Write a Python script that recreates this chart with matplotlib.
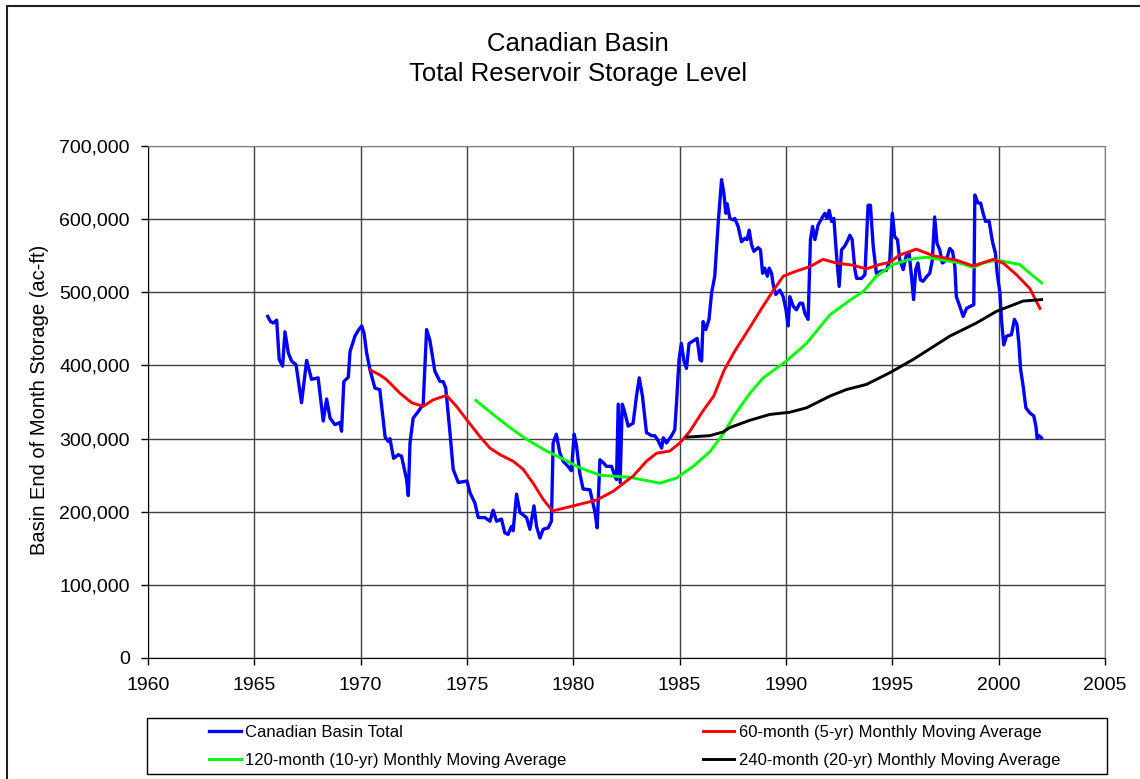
import matplotlib
matplotlib.use("Agg")
import matplotlib.pyplot as plt
from matplotlib.patches import Rectangle
from matplotlib.ticker import FuncFormatter
import numpy as np

plt.rcParams['font.family'] = ['Liberation Sans', 'DejaVu Sans']

# Canadian Basin total, end-of-month storage (thousand ac-ft)
basin_year = [
    1965.63, 1965.76, 1965.89, 1966.05, 1966.17, 1966.33, 1966.44, 1966.6, 1966.75, 1966.96,
    1967.22, 1967.46, 1967.69, 1968.0, 1968.24, 1968.4, 1968.56, 1968.79, 1969.03, 1969.1,
    1969.21, 1969.42, 1969.5, 1969.73, 1969.89, 1970.05, 1970.16, 1970.28, 1970.44, 1970.67,
    1970.9, 1971.15, 1971.3, 1971.38, 1971.45, 1971.55, 1971.77, 1971.92, 1972.16, 1972.24,
    1972.32, 1972.47, 1972.71, 1972.94, 1973.1, 1973.25, 1973.49, 1973.73, 1973.88, 1974.0,
    1974.2, 1974.35, 1974.59, 1974.82, 1975.0, 1975.14, 1975.37, 1975.53, 1975.84, 1976.08,
    1976.23, 1976.39, 1976.62, 1976.78, 1976.93, 1977.09, 1977.17, 1977.33, 1977.49, 1977.8,
    1977.96, 1978.15, 1978.27, 1978.43, 1978.58, 1978.82, 1978.97, 1979.05, 1979.2, 1979.36,
    1979.52, 1979.75, 1979.91, 1980.04, 1980.15, 1980.3, 1980.46, 1980.78, 1981.02, 1981.12,
    1981.25, 1981.41, 1981.56, 1981.8, 1981.95, 1982.03, 1982.11, 1982.2, 1982.3, 1982.38,
    1982.58, 1982.81, 1982.97, 1983.1, 1983.25, 1983.44, 1983.68, 1983.83, 1983.99, 1984.15,
    1984.23, 1984.38, 1984.62, 1984.77, 1984.85, 1984.97, 1985.08, 1985.2, 1985.32, 1985.44,
    1985.72, 1985.82, 1985.95, 1986.03, 1986.1, 1986.23, 1986.38, 1986.5, 1986.65, 1986.81,
    1986.97, 1987.08, 1987.17, 1987.23, 1987.36, 1987.51, 1987.59, 1987.75, 1987.91, 1988.07,
    1988.17, 1988.27, 1988.38, 1988.49, 1988.69, 1988.8, 1988.9, 1989.0, 1989.12, 1989.21,
    1989.32, 1989.4, 1989.52, 1989.71, 1989.87, 1990.0, 1990.1, 1990.18, 1990.34, 1990.49,
    1990.65, 1990.78, 1990.89, 1991.04, 1991.15, 1991.25, 1991.36, 1991.51, 1991.72, 1991.83,
    1991.93, 1992.03, 1992.14, 1992.25, 1992.37, 1992.5, 1992.61, 1992.76, 1992.92, 1993.0,
    1993.11, 1993.24, 1993.32, 1993.55, 1993.71, 1993.86, 1993.97, 1994.1, 1994.25, 1994.49,
    1994.72, 1994.88, 1995.0, 1995.11, 1995.24, 1995.35, 1995.51, 1995.66, 1995.79, 1995.9,
    1996.0, 1996.1, 1996.2, 1996.32, 1996.44, 1996.63, 1996.76, 1996.88, 1996.99, 1997.1,
    1997.23, 1997.35, 1997.54, 1997.7, 1997.83, 1997.94, 1998.01, 1998.17, 1998.33, 1998.49,
    1998.68, 1998.83, 1998.88, 1999.03, 1999.15, 1999.27, 1999.38, 1999.55, 1999.71, 1999.85,
    1999.93, 2000.06, 2000.13, 2000.24, 2000.37, 2000.6, 2000.74, 2000.86, 2000.95, 2001.03,
    2001.15, 2001.28, 2001.47, 2001.65, 2001.75, 2001.81, 2001.9, 2002.01,
]
basin_kaf = [
    467, 460, 458, 462, 408, 399, 446, 417, 406, 401,
    349, 407, 381, 383, 324, 354, 328, 319, 322, 310,
    378, 384, 419, 440, 448, 454, 444, 417, 394, 369,
    367, 302, 296, 300, 288, 273, 278, 276, 244, 222,
    294, 328, 337, 347, 449, 435, 392, 378, 378, 369,
    308, 258, 240, 241, 242, 226, 212, 192, 192, 187,
    202, 187, 190, 171, 169, 180, 174, 224, 199, 192,
    176, 208, 180, 164, 176, 178, 187, 294, 306, 281,
    269, 262, 256, 306, 290, 253, 231, 230, 199, 178,
    271, 267, 262, 262, 249, 244, 347, 240, 347, 340,
    317, 321, 358, 383, 358, 308, 304, 304, 297, 287,
    301, 294, 304, 312, 348, 408, 430, 406, 396, 430,
    435, 437, 408, 406, 460, 449, 463, 499, 522, 594,
    654, 635, 608, 621, 601, 599, 601, 590, 569, 574,
    572, 585, 565, 556, 561, 558, 526, 533, 522, 533,
    526, 510, 497, 503, 494, 476, 454, 494, 481, 476,
    485, 485, 471, 463, 572, 590, 572, 592, 603, 608,
    601, 612, 597, 601, 553, 508, 558, 563, 572, 578,
    572, 531, 519, 519, 524, 619, 619, 563, 526, 529,
    530, 544, 608, 576, 572, 544, 531, 551, 553, 522,
    490, 531, 540, 517, 515, 522, 526, 544, 603, 567,
    558, 540, 544, 560, 556, 535, 494, 481, 467, 478,
    481, 483, 633, 622, 622, 608, 597, 597, 569, 553,
    526, 499, 463, 428, 440, 442, 463, 456, 430, 395,
    372, 342, 335, 331, 317, 300, 304, 301,
]

# 60-month (5-yr) moving average
ma60_year = [1970.44, 1970.9, 1971.2, 1971.85, 1972.4, 1972.94, 1973.41, 1974.04, 1974.51, 1974.98,
             1975.6, 1976.08, 1976.55, 1977.17, 1977.64, 1978.11, 1978.58, 1979.02, 1980.0, 1981.1,
             1981.88, 1982.5, 1982.82, 1983.44, 1983.91, 1984.54, 1985.01, 1985.48, 1986.1, 1986.6,
             1987.1, 1987.6, 1988.3, 1988.77, 1989.32, 1989.87, 1990.49, 1991.12, 1991.74, 1992.37,
             1993.15, 1993.78, 1994.41, 1994.88, 1995.35, 1996.13, 1996.92, 1998.01, 1998.8, 1999.74,
             2000.21, 2000.84, 2001.47, 2001.94]
ma60_kaf = [394, 387, 381, 362, 349, 344, 353, 359, 344, 326,
            303, 287, 278, 269, 258, 239, 217, 201, 208, 216,
            228, 242, 249, 269, 280, 283, 294, 310, 338, 358,
            394, 420, 452, 474, 499, 522, 529, 535, 545, 540,
            537, 532, 538, 541, 551, 559, 550, 544, 536, 545,
            540, 524, 505, 478]

# 120-month (10-yr) moving average
ma120_year = [1975.42, 1976.23, 1977.02, 1977.8, 1978.74, 1979.52, 1980.31, 1981.25, 1982.66, 1984.07,
              1984.85, 1985.63, 1986.42, 1987.04, 1987.6, 1988.3, 1988.93, 1990.02, 1990.96, 1992.06,
              1993.0, 1993.63, 1994.25, 1995.04, 1995.82, 1996.6, 1997.38, 1998.17, 1998.8, 1999.27,
              1999.9, 2000.99, 2001.47, 2002.02]
ma120_kaf = [352, 333, 315, 299, 283, 272, 260, 250, 247, 239,
             246, 262, 282, 306, 333, 362, 383, 406, 430, 469,
             489, 501, 522, 538, 545, 548, 544, 540, 534, 540,
             544, 538, 526, 513]

# 240-month (20-yr) moving average
ma240_year = [1985.35, 1986.42, 1987.04, 1987.36, 1988.3, 1989.24, 1990.18, 1990.96, 1992.06, 1992.84,
              1993.78, 1994.88, 1995.97, 1997.7, 1998.95, 1999.9, 2001.15, 2002.02]
ma240_kaf = [302, 304, 309, 315, 325, 333, 336, 342, 358, 367,
             374, 390, 408, 440, 458, 474, 488, 490]

W, H = 1140, 779
fig = plt.figure(figsize=(W / 100, H / 100), dpi=100)
ax = fig.add_axes([148 / W, 1 - 658 / H, (1105 - 148) / W, (658 - 146) / H])

series = [
    (basin_year, basin_kaf, '#0000ff', 'Canadian Basin Total', 2.4),
    (ma120_year, ma120_kaf, '#00ff00', '120-month (10-yr) Monthly Moving Average', 2.1),
    (ma60_year, ma60_kaf, '#ff0000', '60-month (5-yr) Monthly Moving Average', 2.1),
    (ma240_year, ma240_kaf, '#000000', '240-month (20-yr) Monthly Moving Average', 2.1),
]
handles = []
for yrs, vals, col, lab, lw in series:
    h, = ax.plot(yrs, np.array(vals) * 1000, color=col, lw=lw, label=lab,
                 solid_joinstyle='round', zorder=3)
    handles.append(h)

ax.set_xlim(1960, 2005)
ax.set_ylim(0, 700000)
ax.set_xticks(np.arange(1960, 2006, 5))
ax.set_yticks(np.arange(0, 700001, 100000))
ax.yaxis.set_major_formatter(FuncFormatter(lambda v, p: f"{int(v):,}"))
ax.grid(True, color='#404040', lw=1.0)
ax.set_axisbelow(True)
for s in ['top', 'right']:
    ax.spines[s].set_color('#808080')
for s in ['left', 'bottom']:
    ax.spines[s].set_color('black')
ax.tick_params(axis='both', labelsize=14, length=5, width=1, direction='out')
ax.tick_params(axis='y', pad=8)
ax.tick_params(axis='x', pad=9)

fig.text(40 / W, 1 - 400 / H, 'Basin End of Month Storage (ac-ft)', rotation=90,
         ha='center', va='center', fontsize=14.5)
fig.text(578 / W, 1 - 44 / H, 'Canadian Basin', ha='center', va='center', fontsize=18.5)
fig.text(578 / W, 1 - 74 / H, 'Total Reservoir Storage Level', ha='center', va='center', fontsize=18.5)

leg = fig.legend(handles=handles, ncol=2, loc='upper left',
                 bbox_to_anchor=(209 / W, 1 - 725 / H), frameon=False,
                 fontsize=12, handlelength=1.9, handletextpad=0.25,
                 columnspacing=8.2, labelspacing=0.75, borderpad=0, borderaxespad=0)

fig.add_artist(Rectangle((147 / W, 1 - 774 / H), 960 / W, 56 / H, transform=fig.transFigure,
                         fill=False, edgecolor='black', lw=1.0))
fig.add_artist(Rectangle((7 / W, -0.05), 1.2, 1 - 6 / H + 0.05, transform=fig.transFigure,
                         fill=False, edgecolor='#202020', lw=1.5))

fig.savefig('out.png', dpi=100)
